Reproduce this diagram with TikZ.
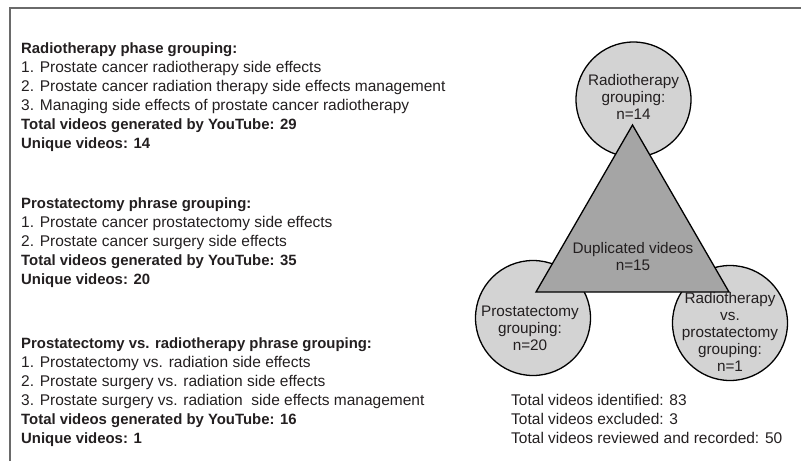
\documentclass[tikz,border=0pt]{standalone}
\usepackage{fontspec}
\setmainfont{Liberation Sans}
\definecolor{txt}{HTML}{231F20}
\definecolor{circfill}{HTML}{D3D3D3}
\definecolor{trifill}{HTML}{A5A5A5}
\definecolor{framecol}{HTML}{6A6A6A}
\begin{document}
\begin{tikzpicture}[x=1pt,y=-1pt,
  reg/.style={anchor=base west, inner sep=0pt, text=txt, font=\fontsize{15.5}{18.9}\selectfont},
  bld/.style={anchor=base west, inner sep=0pt, text=txt, font=\fontsize{14.9}{18.9}\selectfont\bfseries},
  grp/.style={circle, draw=black, line width=1.3pt, fill=circfill, minimum size=115pt, inner sep=0pt},
  ctext/.style={align=center, text=txt, inner sep=0pt, font=\fontsize{15.3}{17}\selectfont},
  framestyle/.style={draw=framecol, line width=1.4pt},
  tri/.style={draw=black, line width=1.3pt, fill=trifill, line join=miter}
]
\useasboundingbox (0,0) rectangle (801,461);
\draw[framestyle] (10,461) -- (10,8) -- (801,8);

% left text, group 1
\node[bld] (h1) at (21,53.5) {Radiotherapy phase grouping:};
\node[reg] (a1) at (21,72.4) {1. Prostate cancer radiotherapy side effects};
\node[reg] (a2) at (21,91.3) {2. Prostate cancer radiation therapy side effects management};
\node[reg] (a3) at (21,110.2) {3. Managing side effects of prostate cancer radiotherapy};
\node[bld] (t1) at (21,129.1) {Total videos generated by YouTube: 29};
\node[bld] (u1) at (21,148.0) {Unique videos: 14};

% group 2
\node[bld] (h2) at (21,208.5) {Prostatectomy phrase grouping:};
\node[reg] (b1) at (21,227.4) {1. Prostate cancer prostatectomy side effects};
\node[reg] (b2) at (21,246.3) {2. Prostate cancer surgery side effects};
\node[bld] (t2) at (21,265.2) {Total videos generated by YouTube: 35};
\node[bld] (u2) at (21,284.1) {Unique videos: 20};

% group 3
\node[bld] (h3) at (21,348.5) {Prostatectomy vs. radiotherapy phrase grouping:};
\node[reg] (c1) at (21,367.4) {1. Prostatectomy vs. radiation side effects};
\node[reg] (c2) at (21,386.3) {2. Prostate surgery vs. radiation side effects};
\node[reg] (c3) at (21,405.2) {3. Prostate surgery vs. radiation\ \ side effects management};
\node[bld] (t3) at (21,424.1) {Total videos generated by YouTube: 16};
\node[bld] (u3) at (21,443.0) {Unique videos: 1};

% circles
\node[grp] (ctop) at (633.5,99.5) {};
\node[grp] (cleft) at (533,318) {};
\node[grp] (cright) at (730,323) {};

% triangle
\coordinate (apex) at (632.5,125);
\coordinate (bl) at (536,292);
\coordinate (br) at (729,292);
\draw[tri] (apex) -- (bl) -- (br) -- cycle;

% texts in shapes
\node[ctext] (ttop) at (633.5,97) {Radiotherapy\\grouping:\\n=14};
\node[ctext] (tleft) at (530,328) {Prostatectomy\\grouping:\\n=20};
\node[ctext] (tright) at (730,332) {Radiotherapy\\vs.\\prostatectomy\\grouping:\\n=1};
\node[ctext] (ttri) at (633,257) {Duplicated videos\\n=15};

% totals
\node[reg] (s1) at (511,405.2) {Total videos identified: 83};
\node[reg] (s2) at (511,424.1) {Total videos excluded: 3};
\node[reg] (s3) at (511,443.0) {Total videos reviewed and recorded: 50};
\end{tikzpicture}
\end{document}
